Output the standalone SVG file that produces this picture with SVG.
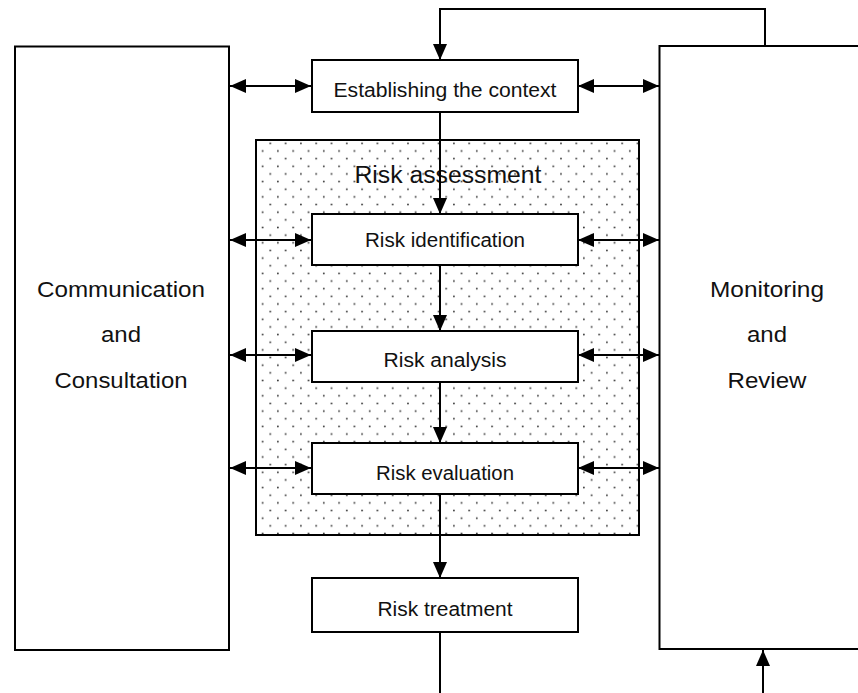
<svg xmlns="http://www.w3.org/2000/svg" width="858" height="693" viewBox="0 0 858 693">
  <style>
    .box { fill: #ffffff; stroke: #000000; stroke-width: 2; }
    .lbl { font-family: "Liberation Sans", Arial, sans-serif; fill: #111111; text-anchor: middle; }
    .big { font-size: 22px; }
    .step { font-size: 20px; }
    .line { fill: none; stroke: #000000; stroke-width: 2; }
  </style>
  <defs>
    <pattern id="dots" x="256" y="140" width="15.3" height="15.3" patternUnits="userSpaceOnUse">
      <circle cx="6.6" cy="11" r="0.9" fill="#333333"/>
      <circle cx="14.3" cy="3.3" r="0.9" fill="#333333"/>
    </pattern>
    <marker id="ah" viewBox="0 0 16 14" refX="16" refY="7" markerWidth="16" markerHeight="14" markerUnits="userSpaceOnUse" orient="auto-start-reverse">
      <path d="M0,0 L16,7 L0,14 Z" fill="#000000"/>
    </marker>
  </defs>

  <!-- side panels -->
  <g id="communication">
    <rect class="box" x="15" y="46.5" width="214" height="603.5"/>
    <text class="lbl big" x="121" y="297" textLength="168" lengthAdjust="spacingAndGlyphs">Communication</text>
    <text class="lbl big" x="121" y="342" textLength="40" lengthAdjust="spacingAndGlyphs">and</text>
    <text class="lbl big" x="121" y="388" textLength="133" lengthAdjust="spacingAndGlyphs">Consultation</text>
  </g>
  <g id="monitoring">
    <rect class="box" x="659.5" y="46" width="220" height="603"/>
    <text class="lbl big" x="767" y="297" textLength="114" lengthAdjust="spacingAndGlyphs">Monitoring</text>
    <text class="lbl big" x="767" y="342" textLength="40" lengthAdjust="spacingAndGlyphs">and</text>
    <text class="lbl big" x="767" y="388" textLength="79" lengthAdjust="spacingAndGlyphs">Review</text>
  </g>

  <!-- assessment area -->
  <g id="assessment">
    <rect x="256" y="140" width="383" height="395" fill="#ffffff" stroke="#000000" stroke-width="2"/>
    <rect x="257" y="141" width="381" height="393" fill="url(#dots)"/>
    <text class="lbl" font-size="23" x="448" y="183" textLength="187" lengthAdjust="spacingAndGlyphs">Risk assessment</text>
  </g>

  <!-- connectors -->
  <g id="connectors">
    <polyline class="line" points="765,46 765,9 440,9 440,60" marker-end="url(#ah)"/>
    <line class="line" x1="440" y1="112" x2="440" y2="214" marker-end="url(#ah)"/>
    <line class="line" x1="440" y1="265" x2="440" y2="331" marker-end="url(#ah)"/>
    <line class="line" x1="440" y1="382" x2="440" y2="443" marker-end="url(#ah)"/>
    <line class="line" x1="440" y1="494" x2="440" y2="578" marker-end="url(#ah)"/>
    <line class="line" x1="440" y1="632" x2="440" y2="693"/>
    <line class="line" x1="763" y1="693" x2="763" y2="650" marker-end="url(#ah)"/>

    <line class="line" x1="230" y1="86" x2="311" y2="86" marker-start="url(#ah)" marker-end="url(#ah)"/>
    <line class="line" x1="578" y1="86" x2="659" y2="86" marker-start="url(#ah)" marker-end="url(#ah)"/>
    <line class="line" x1="230" y1="240" x2="311" y2="240" marker-start="url(#ah)" marker-end="url(#ah)"/>
    <line class="line" x1="578" y1="240" x2="659" y2="240" marker-start="url(#ah)" marker-end="url(#ah)"/>
    <line class="line" x1="230" y1="355" x2="311" y2="355" marker-start="url(#ah)" marker-end="url(#ah)"/>
    <line class="line" x1="578" y1="355" x2="659" y2="355" marker-start="url(#ah)" marker-end="url(#ah)"/>
    <line class="line" x1="230" y1="468" x2="311" y2="468" marker-start="url(#ah)" marker-end="url(#ah)"/>
    <line class="line" x1="578" y1="468" x2="659" y2="468" marker-start="url(#ah)" marker-end="url(#ah)"/>
  </g>

  <!-- process steps -->
  <g id="context">
    <rect class="box" x="312" y="60" width="266" height="52"/>
    <text class="lbl step" x="445" y="97" textLength="223" lengthAdjust="spacingAndGlyphs">Establishing the context</text>
  </g>
  <g id="identification">
    <rect class="box" x="312" y="214" width="266" height="51"/>
    <text class="lbl step" x="445" y="247" textLength="160" lengthAdjust="spacingAndGlyphs">Risk identification</text>
  </g>
  <g id="analysis">
    <rect class="box" x="312" y="331" width="266" height="51"/>
    <text class="lbl step" x="445" y="367" textLength="123" lengthAdjust="spacingAndGlyphs">Risk analysis</text>
  </g>
  <g id="evaluation">
    <rect class="box" x="312" y="443" width="266" height="51"/>
    <text class="lbl step" x="445" y="480" textLength="138" lengthAdjust="spacingAndGlyphs">Risk evaluation</text>
  </g>
  <g id="treatment">
    <rect class="box" x="312" y="578" width="266" height="54"/>
    <text class="lbl step" x="445" y="616" textLength="135" lengthAdjust="spacingAndGlyphs">Risk treatment</text>
  </g>
</svg>
